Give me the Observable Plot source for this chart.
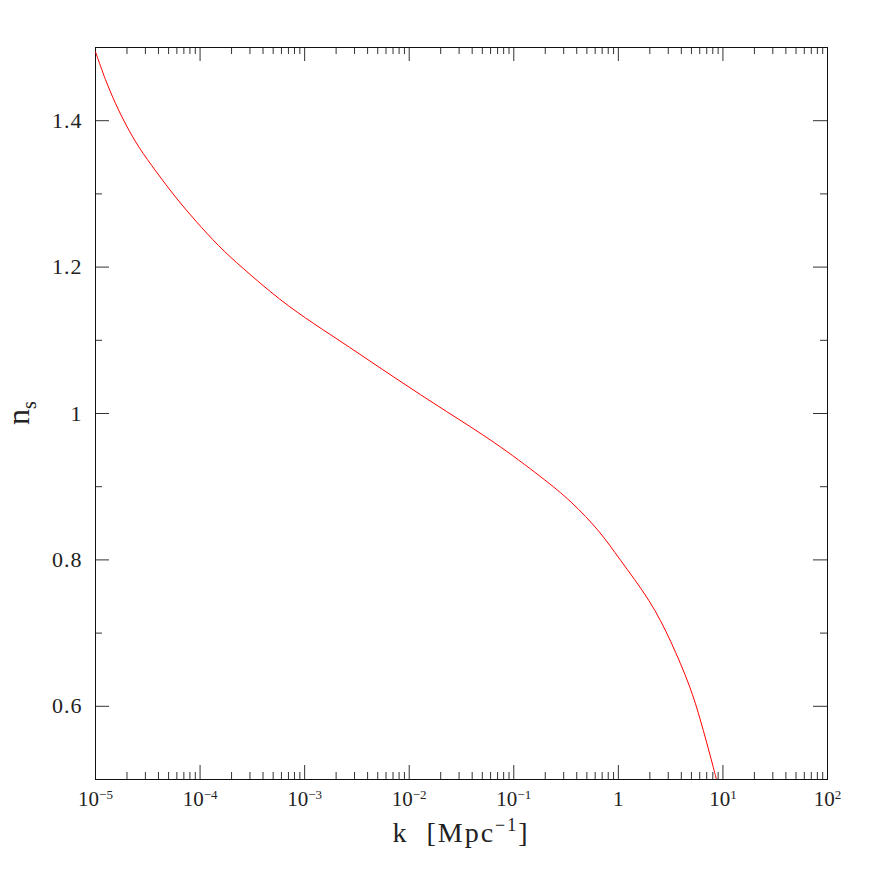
<!DOCTYPE html>
<html>
<head>
<meta charset="utf-8">
<script src="https://cdn.jsdelivr.net/npm/d3@7"></script>
<script src="https://cdn.jsdelivr.net/npm/@observablehq/plot@0.6"></script>
<style>
  html, body { margin: 0; padding: 0; background: white; }
  #chart svg { display: block; }
</style>
</head>
<body>
<div id="chart"></div>
<script>
// ---- data ----
const kValues = [1e-5, 1.247e-5, 1.552e-5, 1.936e-5, 2.594e-5, 3.75e-5, 5.821e-5, 9.057e-5, 1.514e-4, 2.438e-4, 5.888e-4, 1.225e-3, 2.559e-3, 7.145e-3, 2.317e-2, 6.457e-2, 0.1945, 0.3499, 0.6776, 1.0, 2.042, 3.17, 4.92, 6.138, 7.656, 8.67];
const nsValues = [1.494, 1.455, 1.423, 1.395, 1.363, 1.3315, 1.295, 1.263, 1.228, 1.201, 1.154, 1.1224, 1.0927, 1.0494, 1.0016, 0.962, 0.9105, 0.881, 0.838, 0.803, 0.744, 0.690, 0.626, 0.580, 0.530, 0.500];

const xMajorTicks = [1e-5, 1e-4, 1e-3, 1e-2, 1e-1, 1, 10, 100];
const xTickLabels = ["10\u207B\u2075", "10\u207B\u2074", "10\u207B\u00B3", "10\u207B\u00B2", "10\u207B\u00B9", "1", "10\u00B9", "10\u00B2"];
const yMajorTicks = [0.6, 0.8, 1.0, 1.2, 1.4];
const yTickLabels = ["0.6", "0.8", "1", "1.2", "1.4"];
const yMinorTicks = [0.5, 0.7, 0.9, 1.1, 1.3, 1.5];
const xLabel = "k  [Mpc";
const xLabelSup = "\u22121";
const yLabel = "n";
const yLabelSub = "s";

// minor log ticks (2..9 in each decade)
const xMinorTicks = [];
for (let e = -5; e < 2; e++) for (let m = 2; m <= 9; m++) xMinorTicks.push(m * Math.pow(10, e));

const data = kValues.map((k, i) => ({k, ns: nsValues[i]}));
const xLabelMap = new Map(xMajorTicks.map((v, i) => [v, xTickLabels[i]]));
const yLabelMap = new Map(yMajorTicks.map((v, i) => [v, yTickLabels[i]]));

const W = 872, H = 872, mL = 95, mR = 45, mT = 47, mB = 93;
const plotH = H - mT - mB, plotW = W - mL - mR;
const majorLen = 14, minorLen = 7;
const tickColor = "#333";
const font = "'Liberation Serif', serif";

const chart = Plot.plot({
  width: W, height: H,
  marginLeft: mL, marginRight: mR, marginTop: mT, marginBottom: mB,
  style: {fontFamily: font, color: "#222", background: "white", overflow: "visible"},
  x: {type: "log", domain: [1e-5, 1e2]},
  y: {domain: [0.5, 1.5]},
  marks: [
    // bottom ticks
    Plot.tickX(xMajorTicks, {x: d => d, insetTop: plotH - majorLen, stroke: tickColor}),
    Plot.tickX(xMinorTicks, {x: d => d, insetTop: plotH - minorLen, stroke: tickColor}),
    // top ticks
    Plot.tickX(xMajorTicks, {x: d => d, insetBottom: plotH - majorLen, stroke: tickColor}),
    Plot.tickX(xMinorTicks, {x: d => d, insetBottom: plotH - minorLen, stroke: tickColor}),
    // left ticks
    Plot.tickY(yMajorTicks, {y: d => d, insetRight: plotW - majorLen, stroke: tickColor}),
    Plot.tickY(yMinorTicks, {y: d => d, insetRight: plotW - minorLen, stroke: tickColor}),
    // right ticks
    Plot.tickY(yMajorTicks, {y: d => d, insetLeft: plotW - majorLen, stroke: tickColor}),
    Plot.tickY(yMinorTicks, {y: d => d, insetLeft: plotW - minorLen, stroke: tickColor}),
    Plot.frame({stroke: "#111"}),
    Plot.axisX(xMajorTicks, {tickSize: 0, tickPadding: 12, fontSize: 21, tickFormat: d => xLabelMap.get(d), label: null, fill: "#222"}),
    Plot.axisY(yMajorTicks, {tickSize: 0, tickPadding: 13, fontSize: 22, tickFormat: d => yLabelMap.get(d), label: null, fill: "#222"}),
    Plot.line(data, {x: "k", y: "ns", stroke: "#ff0000", strokeWidth: 1, curve: "basis", clip: true})
  ]
});

document.getElementById("chart").appendChild(chart);

const svg = d3.select(chart);

// turn unicode superscripts of the x tick labels into raised tspans
const supMap = {"\u207B": "\u2212", "\u2070": "0", "\u00B9": "1", "\u00B2": "2", "\u00B3": "3", "\u2074": "4", "\u2075": "5"};
svg.selectAll('g[aria-label="x-axis tick label"] text').each(function () {
  const t = this.textContent;
  let i = 0;
  while (i < t.length && !(t[i] in supMap)) i++;
  if (i >= t.length) return;
  const base = t.slice(0, i);
  const sup = Array.from(t.slice(i)).map(c => supMap[c] || c).join("");
  this.textContent = base;
  d3.select(this).append("tspan").attr("font-size", 13).attr("dy", -7).text(sup);
});
svg.selectAll('g[aria-label="y-axis tick label"] text').attr("letter-spacing", 1);

// x-axis title
const xt = svg.append("text")
  .attr("x", (mL + W - mR) / 2)
  .attr("y", 842)
  .attr("text-anchor", "middle")
  .attr("font-family", font)
  .attr("font-size", 28)
  .attr("letter-spacing", 2)
  .attr("xml:space", "preserve")
  .style("white-space", "pre")
  .attr("fill", "#222");
xt.append("tspan").text(xLabel);
xt.append("tspan").attr("font-size", 18).attr("dy", -11).text(xLabelSup);
xt.append("tspan").attr("dy", 11).text("]");

// y-axis title
const yt = svg.append("text")
  .attr("transform", "translate(29,413) rotate(-90)")
  .attr("text-anchor", "middle")
  .attr("font-family", font)
  .attr("font-size", 32)
  .attr("fill", "#222");
yt.append("tspan").text(yLabel);
yt.append("tspan").attr("font-size", 20).attr("dy", 7).text(yLabelSub);
</script>
</body>
</html>
